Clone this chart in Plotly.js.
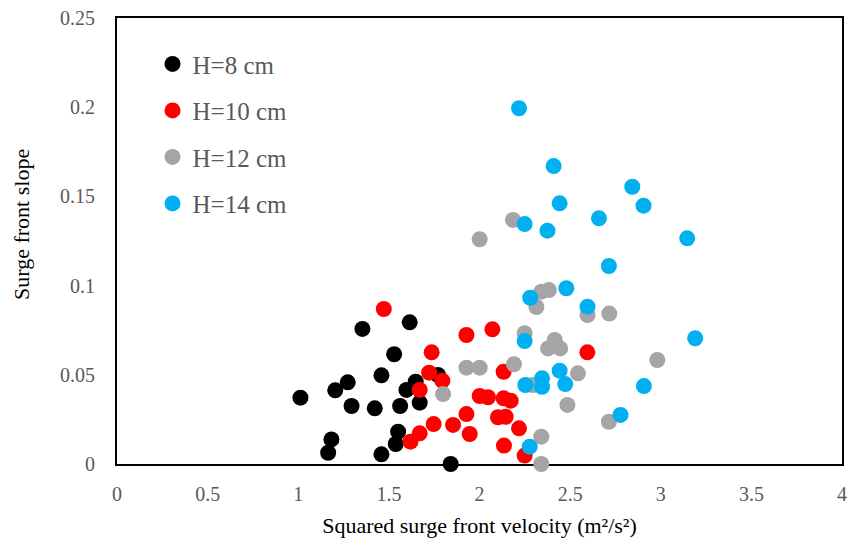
<!DOCTYPE html>
<html>
<head>
<meta charset="utf-8">
<script src="https://cdn.plot.ly/plotly-3.0.1.min.js"></script>
<style>
  html, body { margin: 0; padding: 0; background: #ffffff; }
  #chart { width: 849px; height: 545px; }
</style>
</head>
<body>
<div id="chart"></div>
<script>
// Squared surge front velocity (m²/s²) vs. surge front slope, per water depth H
const h8X  = [1.012, 1.354, 1.615, 1.529, 1.459, 1.273, 1.204, 1.294, 1.422, 1.562, 1.597, 1.648, 1.771, 1.670, 1.551, 1.538, 1.183, 1.165, 1.459, 1.841];
const h8Y  = [0.0372, 0.0757, 0.0794, 0.0615, 0.0497, 0.0458, 0.0413, 0.0325, 0.0312, 0.0325, 0.0415, 0.0461, 0.0499, 0.0344, 0.0181, 0.0112, 0.0138, 0.0063, 0.0054, 0.0];

const h10X = [1.472, 1.928, 2.071, 1.736, 1.722, 1.795, 1.670, 2.133, 2.001, 2.047, 2.133, 2.172, 1.928, 1.854, 1.747, 1.670, 1.619, 1.946, 2.102, 2.144, 2.218, 2.135, 2.249, 2.595];
const h10Y = [0.0869, 0.0723, 0.0755, 0.0626, 0.0512, 0.0467, 0.0415, 0.0517, 0.0381, 0.0374, 0.0368, 0.0355, 0.0280, 0.0219, 0.0224, 0.0172, 0.0125, 0.0168, 0.0262, 0.0265, 0.0200, 0.0103, 0.0047, 0.0626];

const h12X = [1.799, 1.928, 2.001, 2.190, 2.249, 2.314, 2.415, 2.378, 2.445, 2.543, 2.485, 2.341, 2.341, 2.596, 2.716, 2.714, 2.185, 2.001, 2.341, 2.383, 2.981, 2.295];
const h12Y = [0.0392, 0.0540, 0.0540, 0.0559, 0.0733, 0.0880, 0.0695, 0.0648, 0.0648, 0.0508, 0.0331, 0.0153, 0.0, 0.0835, 0.0843, 0.0237, 0.1368, 0.1260, 0.0966, 0.0975, 0.0583, 0.0443];

const h14X = [2.218, 2.409, 2.442, 2.249, 2.375, 2.659, 2.843, 2.905, 3.146, 2.714, 2.479, 2.280, 2.596, 3.190, 2.907, 2.778, 2.249, 2.442, 2.473, 2.345, 2.345, 2.253, 2.277];
const h14Y = [0.1994, 0.1670, 0.1461, 0.1345, 0.1308, 0.1377, 0.1554, 0.1448, 0.1265, 0.1110, 0.0985, 0.0932, 0.0882, 0.0705, 0.0437, 0.0275, 0.0689, 0.0523, 0.0448, 0.0480, 0.0433, 0.0443, 0.0097];

const seriesNames = ['H=8 cm', 'H=10 cm', 'H=12 cm', 'H=14 cm'];
const seriesColors = ['#000000', '#ff0000', '#a5a5a5', '#00b0f0'];
const seriesX = [h8X, h10X, h12X, h14X];
const seriesY = [h8Y, h10Y, h12Y, h14Y];

const serif = '"Liberation Serif", "DejaVu Serif", serif';
const textGray = '#595959';

const traces = seriesNames.map((name, i) => ({
  type: 'scatter',
  mode: 'markers',
  name: name,
  legendgroup: 'g' + i,
  x: seriesX[i],
  y: seriesY[i],
  cliponaxis: false,
  marker: { size: 16, color: seriesColors[i], line: { width: 0 } }
}));

const layout = {
  width: 849,
  height: 545,
  margin: { l: 117, r: 7, t: 18, b: 81 },
  paper_bgcolor: '#ffffff',
  plot_bgcolor: '#ffffff',
  font: { family: serif, color: textGray },
  showlegend: true,
  legend: {
    x: 0.049, xanchor: 'left',
    y: 0.948, yanchor: 'top',
    bgcolor: 'rgba(0,0,0,0)',
    tracegroupgap: 11,
    font: { family: serif, size: 25, color: textGray }
  },
  xaxis: {
    range: [0, 4],
    dtick: 0.5,
    showgrid: false,
    zeroline: false,
    showline: true,
    linecolor: '#000000',
    linewidth: 2,
    mirror: true,
    ticks: '',
    ticklabelstandoff: 11,
    layer: 'below traces',
    tickfont: { family: serif, size: 20, color: textGray },
    title: {
      text: 'Squared surge front velocity (m²/s²)',
      font: { family: serif, size: 22, color: '#000000' },
      standoff: 14
    }
  },
  yaxis: {
    range: [0, 0.25],
    dtick: 0.05,
    showgrid: false,
    zeroline: false,
    showline: true,
    linecolor: '#000000',
    linewidth: 2,
    mirror: true,
    ticks: '',
    ticklabelstandoff: 16,
    layer: 'below traces',
    tickfont: { family: serif, size: 20, color: textGray }
  },
  annotations: [{
    text: 'Surge front slope',
    xref: 'paper', yref: 'paper',
    x: -0.131, y: 0.536,
    xanchor: 'center', yanchor: 'middle',
    textangle: -90,
    showarrow: false,
    font: { family: serif, size: 22, color: '#000000' }
  }]
};

Plotly.newPlot('chart', traces, layout, { displayModeBar: false, staticPlot: true });
</script>
</body>
</html>
